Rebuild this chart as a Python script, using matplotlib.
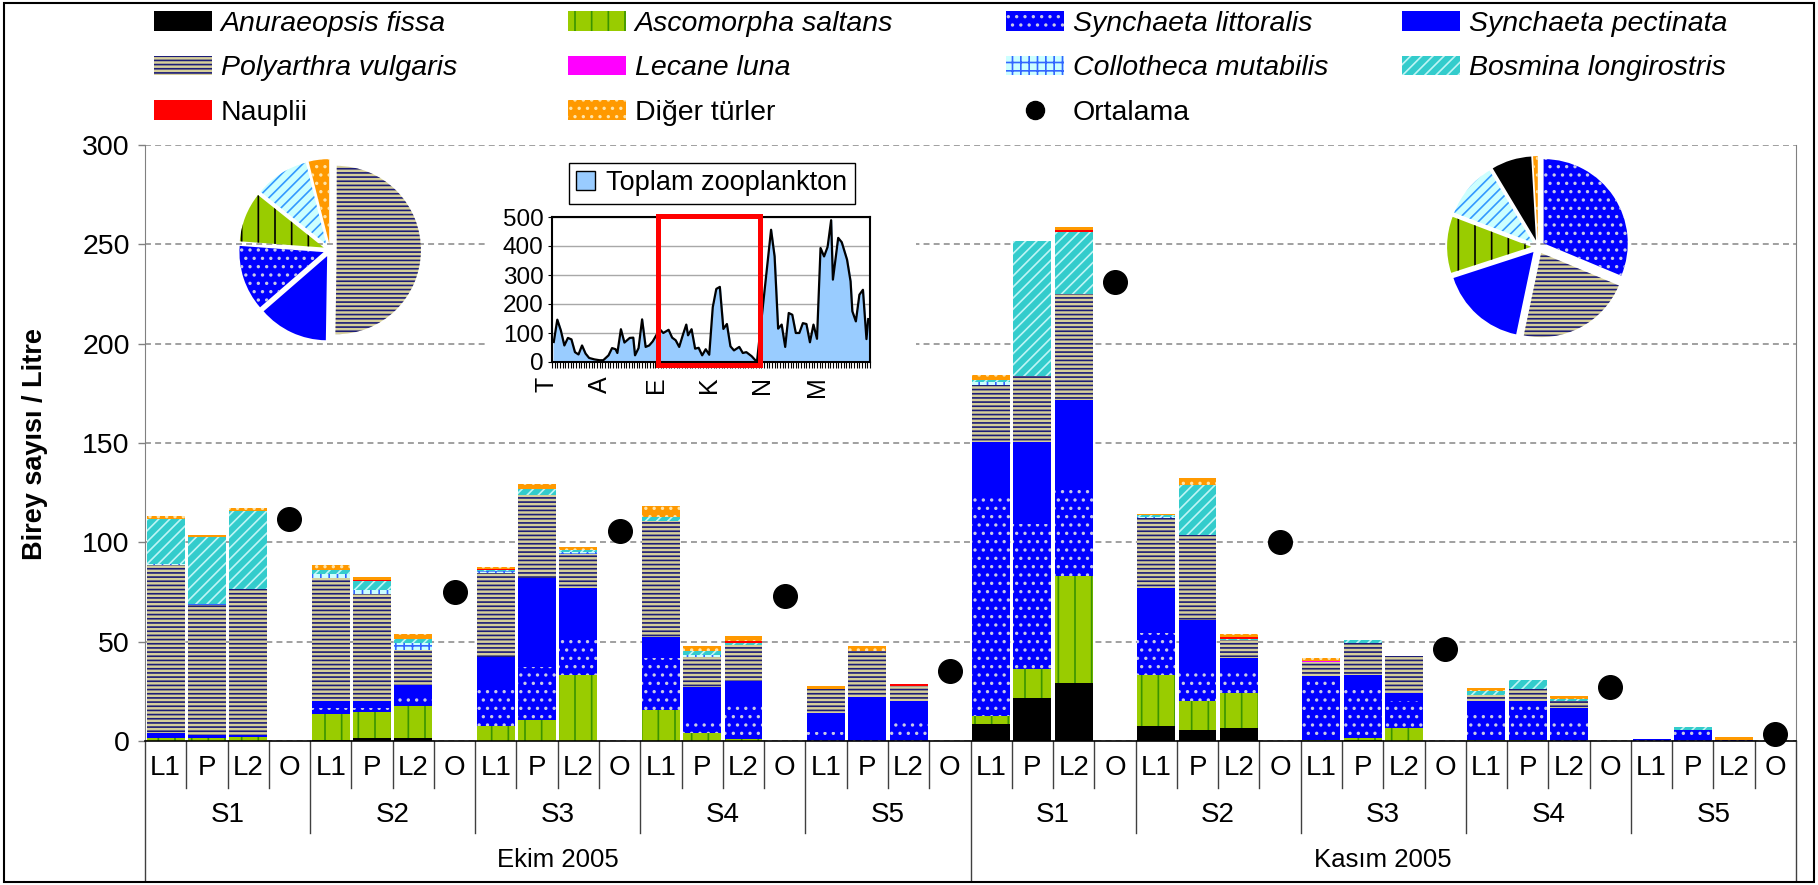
import numpy as np
import matplotlib
matplotlib.use("Agg")
import matplotlib.pyplot as plt
import matplotlib.transforms as mtransforms
from matplotlib.patches import Patch, Rectangle
from matplotlib.lines import Line2D

plt.rcParams['font.family'] = ['Liberation Sans', 'DejaVu Sans']
plt.rcParams['hatch.linewidth'] = 1.2

months = ['Ekim 2005', 'Kasım 2005']
stations = ['S1', 'S2', 'S3', 'S4', 'S5']
positions = ['L1', 'P', 'L2', 'O']

# birey/L; order: Ekim S1 (L1, P, L2), S2 ... S5, then Kasım S1 ... S5
anuraeopsis = [0, 0, 0, 0.5, 1.5, 1.7, 0, 0, 0, 0, 0, 0, 0, 0, 0,
               8.6, 21.8, 29.4, 7.6, 5.5, 6.5, 0, 0.5, 0, 0, 0, 0, 0, 0, 0]
ascomorpha = [1.5, 1.3, 1.8, 13.1, 13.3, 16.1, 7.7, 10.6, 33.2, 15.6, 3.9, 0.8, 0, 0, 0,
              4.0, 14.4, 53.7, 25.6, 14.6, 17.8, 0.5, 1.0, 6.7, 0.5, 0.5, 0, 0, 0, 0]
s_littoralis = [1.5, 0.9, 0.5, 2.8, 1.6, 4.0, 20.0, 26.6, 20.2, 26.0, 7.0, 18.7, 4.7, 1.8, 9.2,
                110.7, 73.0, 44.1, 21.3, 14.5, 10.3, 31.5, 26.2, 13.4, 15.1, 17.1, 11.1, 0.6, 5.5, 0.5]
s_pectinata = [1.0, 0.7, 0.6, 3.7, 3.7, 6.4, 14.7, 45.0, 23.6, 10.9, 16.4, 10.7, 9.2, 20.5, 10.9,
               27.4, 41.5, 44.4, 22.7, 26.3, 7.0, 0.5, 5.5, 4.2, 4.7, 2.7, 5.7, 0.2, 0, 0]
polyarthra = [84.7, 65.6, 73.4, 61.9, 53.7, 17.6, 42.3, 41.5, 17.1, 58.2, 14.8, 18.1, 12.1, 23.0, 7.6,
              28.5, 33.0, 53.4, 35.2, 42.8, 9.2, 7.3, 16.0, 18.5, 2.7, 5.7, 3.3, 0, 0, 0]
lecane = [0] * 15 + [0, 0, 0, 0, 0, 0, 0.6, 0, 0, 0, 0, 0, 0, 0, 0]
collotheca = [0.5, 0.5, 0.4, 2.0, 2.4, 3.7, 0.8, 0, 1.0, 0, 1.2, 0, 0, 0, 0,
              1.5, 0, 0, 0.6, 0, 0, 0, 0, 0, 0, 0, 0, 0, 0, 0]
bosmina = [22.7, 33.5, 39.1, 2.2, 4.3, 2.0, 0.5, 3.0, 1.0, 2.2, 2.0, 1.2, 0, 0, 0,
           1.0, 67.9, 31.2, 0.6, 25.2, 0.7, 0, 1.6, 0, 2.3, 4.7, 1.2, 0, 1.5, 0]
nauplii = [0, 0, 0, 0, 0.7, 0, 0.5, 0, 0, 0, 0, 1.0, 0, 0, 1.0,
           0, 0, 1.2, 0, 0, 1.0, 0, 0, 0, 0, 0, 0, 0, 0, 0]
diger = [1.3, 1.2, 1.3, 2.2, 1.4, 2.2, 1.3, 2.7, 1.4, 5.4, 2.5, 2.4, 1.7, 2.5, 0,
         2.5, 0, 1.5, 0.7, 3.5, 1.4, 1.3, 0, 0, 1.4, 0, 1.4, 0, 0, 1.5]
ortalama = [111.7, 75.0, 105.8, 73.0, 35.2, 231.2, 100.0, 46.1, 27.3, 3.4]

# monthly composition (%) for the two pies, clockwise from 12 o'clock
pie_ekim_names = ['Polyarthra vulgaris', 'Synchaeta pectinata', 'Synchaeta littoralis',
                  'Ascomorpha saltans', 'Bosmina longirostris', 'Diğer türler']
pie_ekim_pct = [50.0, 13.3, 12.5, 9.5, 10.3, 3.9]
pie_kasim_names = ['Synchaeta littoralis', 'Polyarthra vulgaris', 'Synchaeta pectinata',
                   'Ascomorpha saltans', 'Bosmina longirostris', 'Anuraeopsis fissa', 'Diğer türler']
pie_kasim_pct = [31.3, 22.0, 16.7, 10.8, 10.6, 7.7, 0.9]

# total zooplankton time series for the inset
inset_days = [1, 3, 5, 7, 9, 11, 13, 15, 17, 19, 21, 24, 27, 29, 32, 34, 36, 37, 39, 41,
              44, 46, 47, 49, 51, 53, 55, 57, 61, 63, 66, 68, 70, 72, 74, 76, 77, 79, 81, 83,
              85, 87, 89, 91, 93, 95, 97, 99, 101, 103, 106, 108, 110, 113, 116, 124, 126, 128,
              130, 132, 134, 136, 138, 140, 142, 144, 146, 148, 150, 152, 154, 156, 158, 159,
              162, 164, 167, 169, 170, 172, 174, 176, 178, 179]
inset_total = [69, 146, 109, 57, 83, 78, 34, 26, 57, 29, 14, 9, 6, 6, 23, 48, 44, 31, 113, 67,
               83, 84, 23, 48, 147, 52, 57, 71, 113, 100, 111, 84, 75, 52, 92, 129, 92, 113, 46, 49,
               23, 44, 25, 189, 252, 259, 114, 131, 54, 40, 52, 31, 34, 20, 0, 456, 364, 115,
               129, 52, 169, 163, 100, 100, 134, 131, 68, 129, 80, 393, 364, 397, 489, 284,
               428, 413, 353, 278, 175, 140, 232, 249, 79, 148]
inset_month_labels = ['T', 'A', 'E', 'K', 'N', 'M']
inset_month_days = [-3, 27, 59, 89, 119, 150]

species = ['Anuraeopsis fissa', 'Ascomorpha saltans', 'Synchaeta littoralis',
           'Synchaeta pectinata', 'Polyarthra vulgaris', 'Lecane luna',
           'Collotheca mutabilis', 'Bosmina longirostris', 'Nauplii', 'Diğer türler']
series = [anuraeopsis, ascomorpha, s_littoralis, s_pectinata, polyarthra,
          lecane, collotheca, bosmina, nauplii, diger]
faces = ['black', '#99CC00', '#0000FF', '#0000FF', '#D6CF9A',
         '#FF00FF', '#CCFFFF', '#33CCCC', '#FF0000', '#FF9900']
hatches = ['', '|', '..', '', '----', '', '++', '///', '', '..']
hatch_cols = ['black', '#3A9400', '#C8C8E8', '#0000FF', '#1C1C78',
              '#FF00FF', '#3366FF', '#BFF5F5', '#FF0000', '#FFE4A8']
italic = set(species[:8])

W, H = 1818, 885
fig = plt.figure(figsize=(W / 100, H / 100), dpi=100)

ax = fig.add_axes([145 / W, 144 / H, 1651 / W, 596 / H])
ax_h = 596

# stacked bars, three samples per station, fourth slot holds the mean
idx = np.arange(30)
xpos = (idx // 3) * 4 + idx % 3
bottom = np.zeros(30)
for vals, fc, ht, hc in zip(series, faces, hatches, hatch_cols):
    v = np.array(vals, dtype=float)
    ax.bar(xpos, v, width=0.92, bottom=bottom, color=fc, hatch=ht,
           edgecolor=hc, linewidth=0, zorder=2)
    bottom += v

ax.plot(np.arange(10) * 4 + 3, ortalama, 'o', color='black', markersize=17,
        clip_on=False, zorder=4)

ax.set_xlim(-0.5, 39.5)
ax.set_ylim(0, 300)
ax.set_yticks(range(0, 301, 50))
ax.set_xticks([])
ax.tick_params(axis='y', length=5, width=1, color='#808080', labelsize=20.5, pad=6)
ax.yaxis.grid(True, linestyle=(0, (3.3, 2.3)), color='#999999', linewidth=1.3)
ax.set_axisbelow(True)
ax.spines['top'].set_visible(False)
ax.spines['left'].set_color('#808080')
ax.spines['right'].set_color('#808080')
ax.spines['bottom'].set_color('black')
ax.spines['bottom'].set_linewidth(1.2)

# multi-level category axis
trans = mtransforms.blended_transform_factory(ax.transData, ax.transAxes)
for k in range(41):
    if k % 20 == 0:
        drop = 139
    elif k % 4 == 0:
        drop = 92
    else:
        drop = 47
    ax.plot([k - 0.5, k - 0.5], [0, -drop / ax_h], color='#404040', lw=1,
            transform=trans, clip_on=False)
for k in range(40):
    ax.text(k, -27 / ax_h, positions[k % 4], transform=trans, ha='center',
            va='center', fontsize=20)
for g in range(10):
    ax.text(g * 4 + 1.5, -74 / ax_h, stations[g % 5], transform=trans,
            ha='center', va='center', fontsize=20)
for m, name in enumerate(months):
    ax.text(m * 20 + 9.5, -119 / ax_h, name, transform=trans, ha='center',
            va='center', fontsize=18.5)

fig.text(35 / W, 1 - 444 / H, 'Birey sayısı / Litre', rotation=90, ha='center',
         va='center', fontsize=19.5, fontweight='bold')

# legend laid out as four columns
handles = [Patch(facecolor=fc, edgecolor=hc, hatch=ht, linewidth=0)
           for fc, ht, hc in zip(faces, hatches, hatch_cols)]
handles.append(Line2D([], [], marker='o', color='black', linestyle='none', markersize=13))
labels = species + ['Ortalama']
columns = [[0, 4, 8], [1, 5, 9], [2, 6, 10], [3, 7]]
col_x = [154, 568, 1006, 1402]
for cols, cx in zip(columns, col_x):
    leg = fig.legend([handles[i] for i in cols], [labels[i] for i in cols],
                     loc='upper left', bbox_to_anchor=(cx / W, 1 - 11 / H),
                     frameon=False, fontsize=20.5, borderpad=0, borderaxespad=0,
                     handlelength=2.04, handleheight=0.68, handletextpad=0.3,
                     labelspacing=0.645)
    for t in leg.get_texts():
        if t.get_text() in italic:
            t.set_fontstyle('italic')

# white backing for the inset chart
fig.patches.append(Rectangle((487 / W, (H - 405) / H), 429 / W, 255 / H,
                             transform=fig.transFigure, facecolor='white',
                             edgecolor='none', zorder=1))

ax_in = fig.add_axes([552 / W, (H - 362) / H, 318 / W, 145 / H], zorder=2)
ax_in.fill_between(inset_days, inset_total, color='#99CCFF', zorder=2)
ax_in.plot(inset_days, inset_total, color='black', lw=1.6, zorder=3)
ax_in.set_xlim(0, 180)
ax_in.set_ylim(0, 500)
ax_in.set_yticks(range(0, 501, 100))
ax_in.set_xticks(np.arange(0, 181, 1.5))
ax_in.set_xticklabels([])
ax_in.tick_params(axis='x', length=4, width=0.8)
ax_in.tick_params(axis='y', length=3, labelsize=17.5, pad=3)
ax_in.yaxis.grid(True, color='#A8A8A8', lw=1)
ax_in.set_axisbelow(True)
for sp in ax_in.spines.values():
    sp.set_linewidth(1.5)
trans_in = mtransforms.blended_transform_factory(ax_in.transData, ax_in.transAxes)
for lab, d in zip(inset_month_labels, inset_month_days):
    ax_in.text(d, -0.1, lab, transform=trans_in, rotation=90, ha='center',
               va='top', fontsize=18)
ax_in.add_patch(Rectangle((59.8, -9), 58, 511, fill=False, edgecolor='red',
                          lw=3.6, clip_on=False, zorder=5))
leg_in = ax_in.legend([Patch(facecolor='#99CCFF', edgecolor='black', lw=1)],
                      ['Toplam zooplankton'], loc='lower center',
                      bbox_to_anchor=(0.503, 1.09), fontsize=19.5, fancybox=False,
                      edgecolor='black', framealpha=1, handlelength=0.7,
                      handleheight=0.7, handletextpad=0.4, borderpad=0.28,
                      borderaxespad=0)
leg_in.get_frame().set_linewidth(1)

# monthly composition pies
pie_face = dict(zip(species, faces))
pie_hatch = dict(zip(species, hatches))
pie_hcol = dict(zip(species, hatch_cols))
pie_face['Bosmina longirostris'] = '#CCFFFF'
pie_hcol['Bosmina longirostris'] = '#3399FF'
pie_hcol['Ascomorpha saltans'] = 'black'

for (cx, cy), names, pct in [((330, 250), pie_ekim_names, pie_ekim_pct),
                             ((1538, 247), pie_kasim_names, pie_kasim_pct)]:
    pax = fig.add_axes([(cx - 101) / W, (H - cy - 101) / H, 202 / W, 202 / H], zorder=2)
    wedges, _ = pax.pie(pct, startangle=90, counterclock=False,
                        explode=[0.08] * len(pct), radius=1)
    for w, n in zip(wedges, names):
        w.set_facecolor(pie_face[n])
        w.set_hatch(pie_hatch[n])
        w.set_edgecolor(pie_hcol[n])
        w.set_linewidth(0)
    pax.set_xlim(-1.2, 1.2)
    pax.set_ylim(-1.2, 1.2)
    pax.patch.set_visible(False)

fig.patches.append(Rectangle((0.002, 0.003), 0.996, 0.994, transform=fig.transFigure,
                             fill=False, edgecolor='black', lw=1.5, zorder=10))

fig.savefig('out.png', dpi=100)
